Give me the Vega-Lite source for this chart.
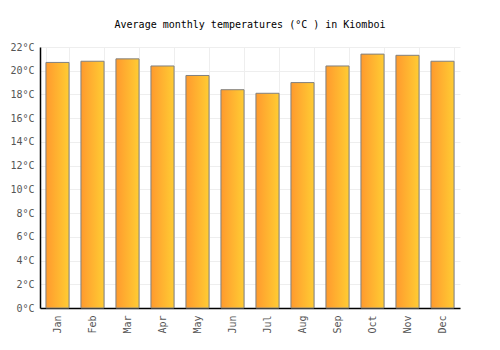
{
  "$schema": "https://vega.github.io/schema/vega-lite/v6.json",
  "autosize": "none",
  "width": 420,
  "height": 261,
  "padding": {"left": 40, "top": 47, "right": 40, "bottom": 42},
  "background": "white",
  "title": {
    "text": "Average monthly temperatures (°C ) in Kiomboi",
    "font": "DejaVu Sans Mono",
    "fontSize": 10,
    "fontWeight": "normal",
    "color": "#000",
    "offset": 12,
    "anchor": "middle"
  },
  "data": {
    "values": [
      {"month": "Jan", "temp": 20.7},
      {"month": "Feb", "temp": 20.8},
      {"month": "Mar", "temp": 21.0},
      {"month": "Apr", "temp": 20.4},
      {"month": "May", "temp": 19.6},
      {"month": "Jun", "temp": 18.4},
      {"month": "Jul", "temp": 18.1},
      {"month": "Aug", "temp": 19.0},
      {"month": "Sep", "temp": 20.4},
      {"month": "Oct", "temp": 21.4},
      {"month": "Nov", "temp": 21.3},
      {"month": "Dec", "temp": 20.8}
    ]
  },
  "config": {
    "view": {"stroke": null},
    "axis": {
      "labelFont": "DejaVu Sans Mono",
      "labelFontSize": 10,
      "labelColor": "#555",
      "gridColor": "#eeeeee",
      "gridWidth": 1,
      "domainColor": "#000",
      "domainWidth": 1.5,
      "ticks": false,
      "title": null
    }
  },
  "mark": {
    "type": "bar",
    "stroke": "#808080",
    "strokeWidth": 1,
    "color": {
      "gradient": "linear",
      "x1": 0, "x2": 1, "y1": 0, "y2": 0,
      "stops": [
        {"offset": 0, "color": "#ff9a2e"},
        {"offset": 1, "color": "#ffcc33"}
      ]
    }
  },
  "encoding": {
    "x": {
      "field": "month",
      "type": "ordinal",
      "sort": null,
      "scale": {"paddingInner": 0.34, "paddingOuter": 0.17},
      "axis": {"labelAngle": -90, "grid": true, "tickBand": "extent", "labelPadding": 7}
    },
    "y": {
      "field": "temp",
      "type": "quantitative",
      "scale": {"domain": [0, 22], "nice": false},
      "axis": {
        "values": [0, 2, 4, 6, 8, 10, 12, 14, 16, 18, 20, 22],
        "labelExpr": "datum.value + '°C'",
        "grid": true,
        "labelPadding": 6
      }
    }
  }
}
